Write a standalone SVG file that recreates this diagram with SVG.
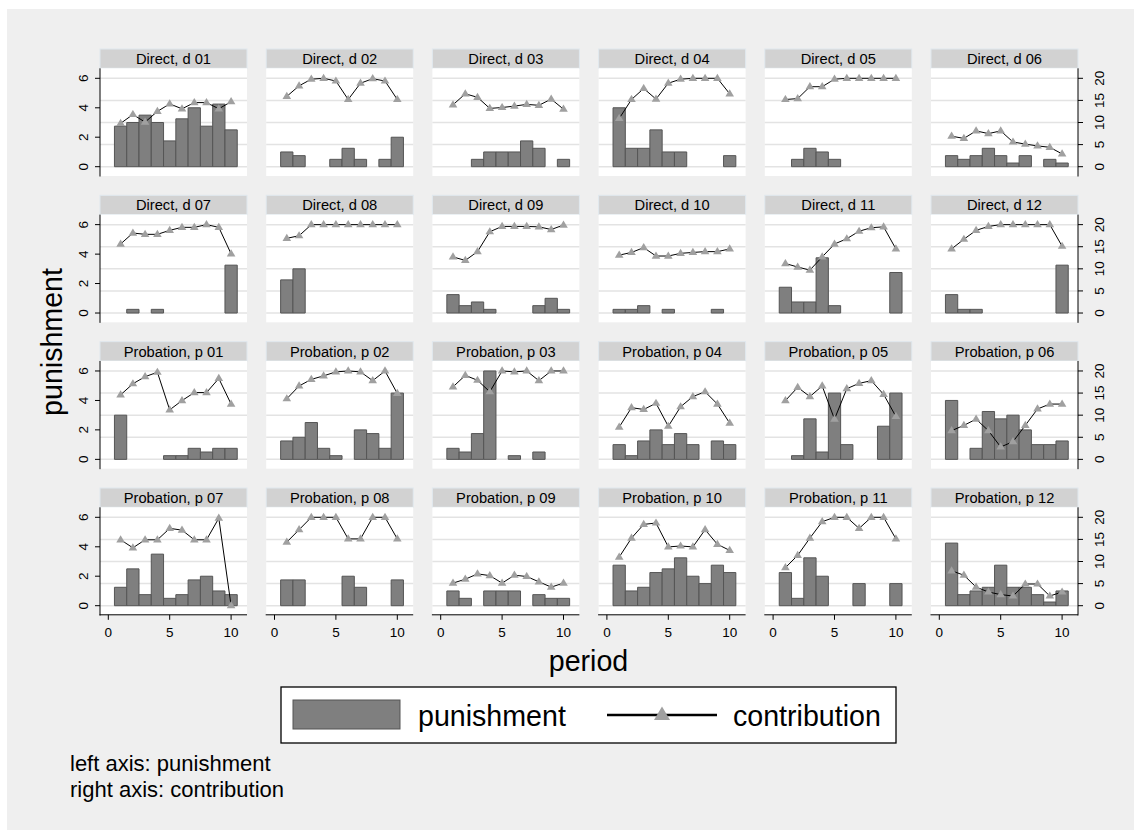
<svg xmlns="http://www.w3.org/2000/svg" xmlns:xlink="http://www.w3.org/1999/xlink" width="1134" height="830" viewBox="0 0 1134 830">
<style>
text{font-family:"Liberation Sans",Arial,Helvetica,sans-serif;fill:#000}
.hdr{fill:#d2d2d2;stroke:#e0e8ee;stroke-width:1}
.plot{fill:#fff}
.grid{stroke:#e3e3e3;stroke-width:1.5;fill:none}
.bars rect{fill:#7f7f7f;stroke:#555;stroke-width:1;vector-effect:non-scaling-stroke}
.ln{fill:none;stroke:#000;stroke-width:1;marker-start:url(#tri);marker-mid:url(#tri);marker-end:url(#tri)}
.ax{stroke:#000;stroke-width:1;fill:none}
.ht{font-size:14.7px;text-anchor:middle}
.tk{font-size:13.5px;text-anchor:middle}
.big{font-size:28.6px}
.note{font-size:22px}
</style>
<defs>
<marker id="tri" markerUnits="userSpaceOnUse" markerWidth="10" markerHeight="10" viewBox="0 0 10 10" refX="5" refY="5" orient="0">
<path d="M5,0.4 L9.3,7.6 L0.7,7.6Z" fill="#a0a0a0"/>
</marker>
<g id="bg">
<rect class="hdr" x="100" y="49" width="147" height="19.3"/>
<rect class="plot" x="100" y="68.3" width="147" height="107.7"/>
<path class="grid" d="M100,166.7H247M100,144.6H247M100,122.5H247M100,100.4H247M100,78.3H247"/>
</g>
<g id="yaxL">
<path class="ax" d="M100,68.3V176.5M95,166.7H100M95,137.2H100M95,107.8H100M95,78.3H100"/>
<text class="tk" transform="translate(88 166.7) rotate(-90)">0</text>
<text class="tk" transform="translate(88 137.2) rotate(-90)">2</text>
<text class="tk" transform="translate(88 107.8) rotate(-90)">4</text>
<text class="tk" transform="translate(88 78.3) rotate(-90)">6</text>
</g>
<g id="yaxR">
<path class="ax" d="M247,68.3V176.5M247,166.7H252M247,144.6H252M247,122.5H252M247,100.4H252M247,78.3H252"/>
<text class="tk" transform="translate(273 166.7) rotate(-90)">0</text>
<text class="tk" transform="translate(273 144.6) rotate(-90)">5</text>
<text class="tk" transform="translate(273 122.5) rotate(-90)">10</text>
<text class="tk" transform="translate(273 100.4) rotate(-90)">15</text>
<text class="tk" transform="translate(273 78.3) rotate(-90)">20</text>
</g>
<g id="xax">
<path class="ax" d="M99.5,175.8H247M108.3,175.8V180.8M169.7,175.8V180.8M231.1,175.8V180.8"/>
<text class="tk" x="108.3" y="198">0</text>
<text class="tk" x="169.7" y="198">5</text>
<text class="tk" x="231.1" y="198">10</text>
</g>
</defs>

<rect width="1134" height="830" fill="#fff"/>
<rect x="7" y="9" width="1127" height="821" fill="#efefef"/>

<!-- Row 1 -->
<g id="d01" transform="translate(0 0)">
<use href="#bg"/>
<text class="ht" x="173.5" y="64">Direct, d 01</text>
<g class="bars" transform="translate(108.3 166.7) scale(12.28 -14.733)">
<rect x="0.5" width="1" height="2.75"/><rect x="1.5" width="1" height="3"/><rect x="2.5" width="1" height="3.5"/><rect x="3.5" width="1" height="3"/><rect x="4.5" width="1" height="1.75"/><rect x="5.5" width="1" height="3.25"/><rect x="6.5" width="1" height="4"/><rect x="7.5" width="1" height="2.75"/><rect x="8.5" width="1" height="4.25"/><rect x="9.5" width="1" height="2.5"/>
</g>
<polyline class="ln" points="120.6,123.4 132.9,114.5 145.1,122.1 157.4,111.4 169.7,103.9 182,108.8 194.3,102.6 206.5,102.6 218.8,108.8 231.1,101.7"/>
<use href="#yaxL"/>
</g>

<g id="d02" transform="translate(166.2 0)">
<use href="#bg"/>
<text class="ht" x="173.5" y="64">Direct, d 02</text>
<g class="bars" transform="translate(108.3 166.7) scale(12.28 -14.733)">
<rect x="0.5" width="1" height="1"/><rect x="1.5" width="1" height="0.75"/><rect x="4.5" width="1" height="0.5"/><rect x="5.5" width="1" height="1.25"/><rect x="6.5" width="1" height="0.5"/><rect x="8.5" width="1" height="0.5"/><rect x="9.5" width="1" height="2"/>
</g>
<polyline class="ln" points="120.6,96.4 132.9,85.8 145.1,79.2 157.4,78.3 169.7,81 182,99.5 194.3,83.2 206.5,78.7 218.8,81 231.1,99.5"/>
</g>

<g id="d03" transform="translate(332.4 0)">
<use href="#bg"/>
<text class="ht" x="173.5" y="64">Direct, d 03</text>
<g class="bars" transform="translate(108.3 166.7) scale(12.28 -14.733)">
<rect x="2.5" width="1" height="0.5"/><rect x="3.5" width="1" height="1"/><rect x="4.5" width="1" height="1"/><rect x="5.5" width="1" height="1"/><rect x="6.5" width="1" height="1.75"/><rect x="7.5" width="1" height="1.25"/><rect x="9.5" width="1" height="0.5"/>
</g>
<polyline class="ln" points="120.6,104.8 132.9,93.8 145.1,97.3 157.4,108.4 169.7,107.5 182,106.1 194.3,104.4 206.5,105.3 218.8,99.1 231.1,109.2"/>
</g>

<g id="d04" transform="translate(498.6 0)">
<use href="#bg"/>
<text class="ht" x="173.5" y="64">Direct, d 04</text>
<g class="bars" transform="translate(108.3 166.7) scale(12.28 -14.733)">
<rect x="0.5" width="1" height="4"/><rect x="1.5" width="1" height="1.25"/><rect x="2.5" width="1" height="1.25"/><rect x="3.5" width="1" height="2.5"/><rect x="4.5" width="1" height="1"/><rect x="5.5" width="1" height="1"/><rect x="9.5" width="1" height="0.75"/>
</g>
<polyline class="ln" points="120.6,118.5 132.9,99.5 145.1,88.5 157.4,99.1 169.7,83.2 182,79.2 194.3,78.3 206.5,78.3 218.8,78.3 231.1,93.8"/>
</g>

<g id="d05" transform="translate(664.8 0)">
<use href="#bg"/>
<text class="ht" x="173.5" y="64">Direct, d 05</text>
<g class="bars" transform="translate(108.3 166.7) scale(12.28 -14.733)">
<rect x="1.5" width="1" height="0.5"/><rect x="2.5" width="1" height="1.25"/><rect x="3.5" width="1" height="1"/><rect x="4.5" width="1" height="0.5"/>
</g>
<polyline class="ln" points="120.6,99.5 132.9,98.6 145.1,86.7 157.4,86.7 169.7,79.2 182,78.3 194.3,78.3 206.5,78.3 218.8,78.3 231.1,78.3"/>
</g>

<g id="d06" transform="translate(831 0)">
<use href="#bg"/>
<text class="ht" x="173.5" y="64">Direct, d 06</text>
<g class="bars" transform="translate(108.3 166.7) scale(12.28 -14.733)">
<rect x="0.5" width="1" height="0.75"/><rect x="1.5" width="1" height="0.5"/><rect x="2.5" width="1" height="0.75"/><rect x="3.5" width="1" height="1.25"/><rect x="4.5" width="1" height="0.75"/><rect x="5.5" width="1" height="0.25"/><rect x="6.5" width="1" height="0.75"/><rect x="8.5" width="1" height="0.5"/><rect x="9.5" width="1" height="0.25"/>
</g>
<polyline class="ln" points="120.6,136.2 132.9,138.4 145.1,130.9 157.4,133.6 169.7,130.9 182,142 194.3,144.1 206.5,145.9 218.8,147.3 231.1,153.9"/>
<use href="#yaxR"/>
</g>

<!-- Row 2 -->
<g id="d07" transform="translate(0 146.33)">
<use href="#bg"/>
<text class="ht" x="173.5" y="64">Direct, d 07</text>
<g class="bars" transform="translate(108.3 166.7) scale(12.28 -14.733)">
<rect x="1.5" width="1" height="0.25"/><rect x="3.5" width="1" height="0.25"/><rect x="9.5" width="1" height="3.25"/>
</g>
<polyline class="ln" points="120.6,97.7 132.9,86.7 145.1,88 157.4,88 169.7,84 182,81 194.3,81 206.5,78.3 218.8,81 231.1,107.5"/>
<use href="#yaxL"/>
</g>

<g id="d08" transform="translate(166.2 146.33)">
<use href="#bg"/>
<text class="ht" x="173.5" y="64">Direct, d 08</text>
<g class="bars" transform="translate(108.3 166.7) scale(12.28 -14.733)">
<rect x="0.5" width="1" height="2.25"/><rect x="1.5" width="1" height="3"/>
</g>
<polyline class="ln" points="120.6,92 132.9,89.4 145.1,78.3 157.4,78.3 169.7,78.3 182,78.3 194.3,78.3 206.5,78.3 218.8,78.3 231.1,78.3"/>
</g>

<g id="d09" transform="translate(332.4 146.33)">
<use href="#bg"/>
<text class="ht" x="173.5" y="64">Direct, d 09</text>
<g class="bars" transform="translate(108.3 166.7) scale(12.28 -14.733)">
<rect x="0.5" width="1" height="1.25"/><rect x="1.5" width="1" height="0.5"/><rect x="2.5" width="1" height="0.75"/><rect x="3.5" width="1" height="0.25"/><rect x="7.5" width="1" height="0.5"/><rect x="8.5" width="1" height="1"/><rect x="9.5" width="1" height="0.25"/>
</g>
<polyline class="ln" points="120.6,110.6 132.9,114.1 145.1,105.3 157.4,85.4 169.7,80.1 182,80.1 194.3,80.1 206.5,80.5 218.8,83.2 231.1,78.7"/>
</g>

<g id="d10" transform="translate(498.6 146.33)">
<use href="#bg"/>
<text class="ht" x="173.5" y="64">Direct, d 10</text>
<g class="bars" transform="translate(108.3 166.7) scale(12.28 -14.733)">
<rect x="0.5" width="1" height="0.25"/><rect x="1.5" width="1" height="0.25"/><rect x="2.5" width="1" height="0.5"/><rect x="4.5" width="1" height="0.25"/><rect x="8.5" width="1" height="0.25"/>
</g>
<polyline class="ln" points="120.6,108.8 132.9,106.1 145.1,101.3 157.4,109.7 169.7,109.7 182,107 194.3,106.1 206.5,105.3 218.8,105.3 231.1,102.6"/>
</g>

<g id="d11" transform="translate(664.8 146.33)">
<use href="#bg"/>
<text class="ht" x="173.5" y="64">Direct, d 11</text>
<g class="bars" transform="translate(108.3 166.7) scale(12.28 -14.733)">
<rect x="0.5" width="1" height="1.75"/><rect x="1.5" width="1" height="0.75"/><rect x="2.5" width="1" height="0.75"/><rect x="3.5" width="1" height="3.75"/><rect x="4.5" width="1" height="0.5"/><rect x="9.5" width="1" height="2.75"/>
</g>
<polyline class="ln" points="120.6,117.2 132.9,120.7 145.1,123.8 157.4,110.6 169.7,97.7 182,92.4 194.3,84.9 206.5,81.4 218.8,80.5 231.1,102.6"/>
</g>

<g id="d12" transform="translate(831 146.33)">
<use href="#bg"/>
<text class="ht" x="173.5" y="64">Direct, d 12</text>
<g class="bars" transform="translate(108.3 166.7) scale(12.28 -14.733)">
<rect x="0.5" width="1" height="1.25"/><rect x="1.5" width="1" height="0.25"/><rect x="2.5" width="1" height="0.25"/><rect x="9.5" width="1" height="3.25"/>
</g>
<polyline class="ln" points="120.6,102.6 132.9,92.9 145.1,84 157.4,80.1 169.7,78.3 182,78.3 194.3,78.3 206.5,78.3 218.8,78.3 231.1,99.9"/>
<use href="#yaxR"/>
</g>

<!-- Row 3 -->
<g id="p01" transform="translate(0 292.67)">
<use href="#bg"/>
<text class="ht" x="173.5" y="64">Probation, p 01</text>
<g class="bars" transform="translate(108.3 166.7) scale(12.28 -14.733)">
<rect x="0.5" width="1" height="3"/><rect x="4.5" width="1" height="0.25"/><rect x="5.5" width="1" height="0.25"/><rect x="6.5" width="1" height="0.75"/><rect x="7.5" width="1" height="0.5"/><rect x="8.5" width="1" height="0.75"/><rect x="9.5" width="1" height="0.75"/>
</g>
<polyline class="ln" points="120.6,102.2 132.9,91.1 145.1,84 157.4,79.6 169.7,117.2 182,107.9 194.3,99.9 206.5,99.9 218.8,85.8 231.1,111.4"/>
<use href="#yaxL"/>
</g>

<g id="p02" transform="translate(166.2 292.67)">
<use href="#bg"/>
<text class="ht" x="173.5" y="64">Probation, p 02</text>
<g class="bars" transform="translate(108.3 166.7) scale(12.28 -14.733)">
<rect x="0.5" width="1" height="1.25"/><rect x="1.5" width="1" height="1.5"/><rect x="2.5" width="1" height="2.5"/><rect x="3.5" width="1" height="0.75"/><rect x="4.5" width="1" height="0.25"/><rect x="6.5" width="1" height="2"/><rect x="7.5" width="1" height="1.75"/><rect x="8.5" width="1" height="0.75"/><rect x="9.5" width="1" height="4.5"/>
</g>
<polyline class="ln" points="120.6,106.1 132.9,93.3 145.1,86.7 157.4,83.2 169.7,79.2 182,78.3 194.3,79.2 206.5,88 218.8,78.3 231.1,100.8"/>
</g>

<g id="p03" transform="translate(332.4 292.67)">
<use href="#bg"/>
<text class="ht" x="173.5" y="64">Probation, p 03</text>
<g class="bars" transform="translate(108.3 166.7) scale(12.28 -14.733)">
<rect x="0.5" width="1" height="0.75"/><rect x="1.5" width="1" height="0.5"/><rect x="2.5" width="1" height="1.75"/><rect x="3.5" width="1" height="6"/><rect x="5.5" width="1" height="0.25"/><rect x="7.5" width="1" height="0.5"/>
</g>
<polyline class="ln" points="120.6,94.2 132.9,82.7 145.1,87.6 157.4,99.1 169.7,78.3 182,79.2 194.3,78.3 206.5,88 218.8,78.3 231.1,78.3"/>
</g>

<g id="p04" transform="translate(498.6 292.67)">
<use href="#bg"/>
<text class="ht" x="173.5" y="64">Probation, p 04</text>
<g class="bars" transform="translate(108.3 166.7) scale(12.28 -14.733)">
<rect x="0.5" width="1" height="1"/><rect x="1.5" width="1" height="0.25"/><rect x="2.5" width="1" height="1.25"/><rect x="3.5" width="1" height="2"/><rect x="4.5" width="1" height="1"/><rect x="5.5" width="1" height="1.75"/><rect x="6.5" width="1" height="1"/><rect x="8.5" width="1" height="1.25"/><rect x="9.5" width="1" height="1"/>
</g>
<polyline class="ln" points="120.6,134.4 132.9,115 145.1,116.8 157.4,110.6 169.7,133.6 182,114.1 194.3,103.9 206.5,99.1 218.8,111.4 231.1,130.5"/>
</g>

<g id="p05" transform="translate(664.8 292.67)">
<use href="#bg"/>
<text class="ht" x="173.5" y="64">Probation, p 05</text>
<g class="bars" transform="translate(108.3 166.7) scale(12.28 -14.733)">
<rect x="1.5" width="1" height="0.25"/><rect x="2.5" width="1" height="2.75"/><rect x="3.5" width="1" height="0.5"/><rect x="4.5" width="1" height="4.5"/><rect x="5.5" width="1" height="1"/><rect x="8.5" width="1" height="2.25"/><rect x="9.5" width="1" height="4.5"/>
</g>
<polyline class="ln" points="120.6,107.9 132.9,94.7 145.1,103.9 157.4,93.3 169.7,126.5 182,96 194.3,90.7 206.5,88 218.8,101.7 231.1,123.8"/>
</g>

<g id="p06" transform="translate(831 292.67)">
<use href="#bg"/>
<text class="ht" x="173.5" y="64">Probation, p 06</text>
<g class="bars" transform="translate(108.3 166.7) scale(12.28 -14.733)">
<rect x="0.5" width="1" height="4"/><rect x="2.5" width="1" height="0.75"/><rect x="3.5" width="1" height="3.25"/><rect x="4.5" width="1" height="2.75"/><rect x="5.5" width="1" height="3"/><rect x="6.5" width="1" height="2"/><rect x="7.5" width="1" height="1"/><rect x="8.5" width="1" height="1"/><rect x="9.5" width="1" height="1.25"/>
</g>
<polyline class="ln" points="120.6,138 132.9,132.7 145.1,126.5 157.4,138 169.7,154.3 182,149 194.3,132.7 206.5,116.3 218.8,111.4 231.1,111.4"/>
<use href="#yaxR"/>
</g>

<!-- Row 4 -->
<g id="p07" transform="translate(0 439)">
<use href="#bg"/>
<text class="ht" x="173.5" y="64">Probation, p 07</text>
<g class="bars" transform="translate(108.3 166.7) scale(12.28 -14.733)">
<rect x="0.5" width="1" height="1.25"/><rect x="1.5" width="1" height="2.5"/><rect x="2.5" width="1" height="0.75"/><rect x="3.5" width="1" height="3.5"/><rect x="4.5" width="1" height="0.5"/><rect x="5.5" width="1" height="0.75"/><rect x="6.5" width="1" height="1.75"/><rect x="7.5" width="1" height="2"/><rect x="8.5" width="1" height="1"/><rect x="9.5" width="1" height="0.75"/>
</g>
<polyline class="ln" points="120.6,100.8 132.9,108.8 145.1,100.8 157.4,100.8 169.7,89.4 182,91.1 194.3,100.8 206.5,100.8 218.8,79.2 231.1,166.7"/>
<use href="#yaxL"/>
<use href="#xax"/>
</g>

<g id="p08" transform="translate(166.2 439)">
<use href="#bg"/>
<text class="ht" x="173.5" y="64">Probation, p 08</text>
<g class="bars" transform="translate(108.3 166.7) scale(12.28 -14.733)">
<rect x="0.5" width="1" height="1.75"/><rect x="1.5" width="1" height="1.75"/><rect x="5.5" width="1" height="2"/><rect x="6.5" width="1" height="1.25"/><rect x="9.5" width="1" height="1.75"/>
</g>
<polyline class="ln" points="120.6,103.1 132.9,90.7 145.1,78.3 157.4,78.3 169.7,78.3 182,99.9 194.3,99.9 206.5,78.3 218.8,78.3 231.1,99.9"/>
<use href="#xax"/>
</g>

<g id="p09" transform="translate(332.4 439)">
<use href="#bg"/>
<text class="ht" x="173.5" y="64">Probation, p 09</text>
<g class="bars" transform="translate(108.3 166.7) scale(12.28 -14.733)">
<rect x="0.5" width="1" height="1"/><rect x="1.5" width="1" height="0.5"/><rect x="3.5" width="1" height="1"/><rect x="4.5" width="1" height="1"/><rect x="5.5" width="1" height="1"/><rect x="7.5" width="1" height="0.75"/><rect x="8.5" width="1" height="0.5"/><rect x="9.5" width="1" height="0.5"/>
</g>
<polyline class="ln" points="120.6,144.1 132.9,140.2 145.1,134.9 157.4,136.6 169.7,144.1 182,136.2 194.3,137.5 206.5,142.8 218.8,148.1 231.1,144.1"/>
<use href="#xax"/>
</g>

<g id="p10" transform="translate(498.6 439)">
<use href="#bg"/>
<text class="ht" x="173.5" y="64">Probation, p 10</text>
<g class="bars" transform="translate(108.3 166.7) scale(12.28 -14.733)">
<rect x="0.5" width="1" height="2.75"/><rect x="1.5" width="1" height="1"/><rect x="2.5" width="1" height="1.25"/><rect x="3.5" width="1" height="2.25"/><rect x="4.5" width="1" height="2.5"/><rect x="5.5" width="1" height="3.25"/><rect x="6.5" width="1" height="2"/><rect x="7.5" width="1" height="1.5"/><rect x="8.5" width="1" height="2.75"/><rect x="9.5" width="1" height="2.25"/>
</g>
<polyline class="ln" points="120.6,118.1 132.9,99.1 145.1,85.4 157.4,84 169.7,107.9 182,107 194.3,107.9 206.5,90.7 218.8,105.3 231.1,111.4"/>
<use href="#xax"/>
</g>

<g id="p11" transform="translate(664.8 439)">
<use href="#bg"/>
<text class="ht" x="173.5" y="64">Probation, p 11</text>
<g class="bars" transform="translate(108.3 166.7) scale(12.28 -14.733)">
<rect x="0.5" width="1" height="2.25"/><rect x="1.5" width="1" height="0.5"/><rect x="2.5" width="1" height="3.25"/><rect x="3.5" width="1" height="2"/><rect x="6.5" width="1" height="1.5"/><rect x="9.5" width="1" height="1.5"/>
</g>
<polyline class="ln" points="120.6,128.7 132.9,116.3 145.1,99.1 157.4,82.7 169.7,78.3 182,78.3 194.3,89.4 206.5,78.3 218.8,78.3 231.1,99.9"/>
<use href="#xax"/>
</g>

<g id="p12" transform="translate(831 439)">
<use href="#bg"/>
<text class="ht" x="173.5" y="64">Probation, p 12</text>
<g class="bars" transform="translate(108.3 166.7) scale(12.28 -14.733)">
<rect x="0.5" width="1" height="4.25"/><rect x="1.5" width="1" height="0.75"/><rect x="2.5" width="1" height="1"/><rect x="3.5" width="1" height="1.25"/><rect x="4.5" width="1" height="2.75"/><rect x="5.5" width="1" height="1.25"/><rect x="6.5" width="1" height="1.25"/><rect x="7.5" width="1" height="0.75"/><rect x="8.5" width="1" height="0.25"/><rect x="9.5" width="1" height="1"/>
</g>
<polyline class="ln" points="120.6,131.8 132.9,136.2 145.1,148.1 157.4,153 169.7,155.6 182,157 194.3,145 206.5,145 218.8,157 231.1,153"/>
<use href="#yaxR"/>
<use href="#xax"/>
</g>

<!-- Axis titles -->
<text class="big" text-anchor="middle" transform="translate(62 342) rotate(-90)">punishment</text>
<text class="big" text-anchor="middle" x="588.5" y="671">period</text>

<!-- Legend -->
<g id="legend">
<rect x="281" y="687" width="615" height="56" fill="#fff" stroke="#000" stroke-width="1.3"/>
<rect x="293" y="700" width="107" height="29" fill="#7f7f7f" stroke="#555" stroke-width="1"/>
<text class="big" x="418" y="726">punishment</text>
<line x1="607" y1="715" x2="717" y2="715" stroke="#000" stroke-width="2.5"/>
<path d="M662,706.5 L670,720 L654,720Z" fill="#a0a0a0"/>
<text class="big" x="733" y="726">contribution</text>
</g>

<!-- Note -->
<text class="note" x="70" y="771">left axis: punishment</text>
<text class="note" x="70" y="797">right axis: contribution</text>
</svg>
